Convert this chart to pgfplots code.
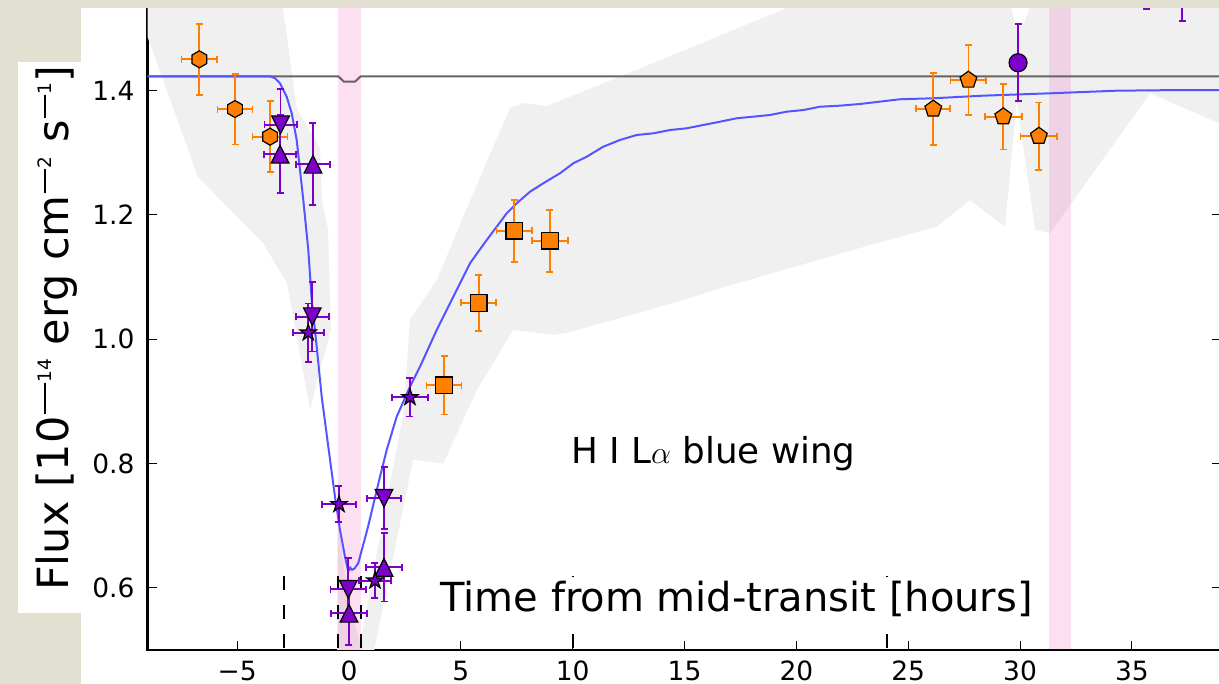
\documentclass[border=0pt]{standalone}
\usepackage{fontspec}
\setmainfont{DejaVu Sans}
\usepackage{graphicx}
\usepackage{pgfplots}
\pgfplotsset{compat=1.18}
\usetikzlibrary{plotmarks}

\definecolor{beige}{RGB}{226,224,208}
\definecolor{band}{RGB}{240,240,240}
\definecolor{morange}{RGB}{255,127,0}
\definecolor{mpurple}{RGB}{125,0,205}
\definecolor{mblue}{RGB}{85,85,255}
\definecolor{mgray}{RGB}{100,100,100}

\newcommand\sups[2]{\hspace{2pt}\raisebox{22pt}{\rule{#1}{2.2pt}}\hspace{1pt}\raisebox{16.5pt}{\fontsize{18.5}{20}\selectfont #2}}

\pgfdeclareplotmark{hexa}{%
  \pgfpathmoveto{\pgfpointpolar{90}{\pgfplotmarksize}}%
  \pgfpathlineto{\pgfpointpolar{150}{\pgfplotmarksize}}%
  \pgfpathlineto{\pgfpointpolar{210}{\pgfplotmarksize}}%
  \pgfpathlineto{\pgfpointpolar{270}{\pgfplotmarksize}}%
  \pgfpathlineto{\pgfpointpolar{330}{\pgfplotmarksize}}%
  \pgfpathlineto{\pgfpointpolar{30}{\pgfplotmarksize}}%
  \pgfpathclose\pgfusepathqfillstroke}
\pgfdeclareplotmark{fstar}{%
  \pgfpathmoveto{\pgfpointpolar{90}{\pgfplotmarksize}}%
  \pgfpathlineto{\pgfpointpolar{126}{0.382\pgfplotmarksize}}%
  \pgfpathlineto{\pgfpointpolar{162}{\pgfplotmarksize}}%
  \pgfpathlineto{\pgfpointpolar{198}{0.382\pgfplotmarksize}}%
  \pgfpathlineto{\pgfpointpolar{234}{\pgfplotmarksize}}%
  \pgfpathlineto{\pgfpointpolar{270}{0.382\pgfplotmarksize}}%
  \pgfpathlineto{\pgfpointpolar{306}{\pgfplotmarksize}}%
  \pgfpathlineto{\pgfpointpolar{342}{0.382\pgfplotmarksize}}%
  \pgfpathlineto{\pgfpointpolar{18}{\pgfplotmarksize}}%
  \pgfpathlineto{\pgfpointpolar{54}{0.382\pgfplotmarksize}}%
  \pgfpathclose\pgfusepathqfillstroke}
\pgfdeclareplotmark{tup}{%
  \pgfpathmoveto{\pgfpoint{0pt}{\pgfplotmarksize}}%
  \pgfpathlineto{\pgfpoint{-\pgfplotmarksize}{-\pgfplotmarksize}}%
  \pgfpathlineto{\pgfpoint{\pgfplotmarksize}{-\pgfplotmarksize}}%
  \pgfpathclose\pgfusepathqfillstroke}
\pgfdeclareplotmark{tdown}{%
  \pgfpathmoveto{\pgfpoint{0pt}{-\pgfplotmarksize}}%
  \pgfpathlineto{\pgfpoint{-\pgfplotmarksize}{\pgfplotmarksize}}%
  \pgfpathlineto{\pgfpoint{\pgfplotmarksize}{\pgfplotmarksize}}%
  \pgfpathclose\pgfusepathqfillstroke}

\pgfplotsset{
  orangeerr/.style={only marks, color=morange, line width=1.8pt,
    mark options={draw=black, fill=morange, line width=1.2pt, solid},
    error bars/x dir=both, error bars/x explicit, error bars/y dir=both, error bars/y explicit,
    error bars/error bar style={line width=1.8pt, morange},
    error bars/error mark options={rotate=90, morange, mark size=3.5pt, line width=1.8pt}},
  purpleerr/.style={only marks, color=mpurple, line width=1.8pt,
    mark options={draw=black, fill=mpurple, line width=1.2pt, solid},
    error bars/x dir=both, error bars/x explicit, error bars/y dir=both, error bars/y explicit,
    error bars/error bar style={line width=1.8pt, mpurple},
    error bars/error mark options={rotate=90, mpurple, mark size=3.5pt, line width=1.8pt}},
}

\begin{document}
\begin{tikzpicture}
\useasboundingbox (0pt,0pt) rectangle (1219pt,-684pt);
\begin{scope}
\clip (0pt,0pt) rectangle (1219pt,-684pt);
\fill[white] (0pt,0pt) rectangle (1219pt,-684pt);
\begin{axis}[
  at={(147.67pt,-649.87pt)}, anchor=south west,
  scale only axis, width=1073.76pt, height=683.43pt,
  xmin=-9, xmax=39, ymin=0.5, ymax=1.6,
  xtick={-5,0,5,10,15,20,25,30,35},
  xticklabels={−5,0,5,10,15,20,25,30,35},
  ytick={0.6,0.8,1.0,1.2,1.4},
  yticklabels={0.6,0.8,1.0,1.2,1.4},
  every tick label/.append style={inner sep=0pt, font=\fontsize{26.5}{30}\selectfont},
  xticklabel shift=11pt, yticklabel shift=13pt,
  major tick length=9pt,
  tick style={line width=1pt, black},
  axis line style={line width=2.5pt},
  clip=true,
]
% uncertainty band
\addplot[fill=band, draw=none] coordinates {
(-9.5,1.65) (-2.95,1.65) (-2.95,1.533) (-2.325,1.369) (-1.296,1.309) (-1.207,1.224)
(-0.939,1.176) (-0.805,1.015) (-1.296,0.950) (-1.743,0.886) (-2.772,1.090)
(-3.844,1.155) (-6.750,1.261) (-9.0,1.486) (-9.5,1.50)} -- cycle;
\addplot[fill=band, draw=none] coordinates {
(-0.536,0.45) (-0.536,0.717) (-0.1,0.60) (0.49,0.508) (2.0,0.80) (2.43,0.88)
(2.727,1.031) (3.920,1.095) (5.780,1.254) (7.197,1.372) (7.792,1.380) (8.838,1.375)
(12.696,1.431) (19.566,1.533) (21.726,1.565) (22.5,1.65) (28.9,1.65) (29.906,1.486)
(31.78,1.65) (39.83,1.65) (39.83,1.333) (35.81,1.396) (31.34,1.171) (30.67,1.176)
(29.85,1.385) (29.33,1.181) (27.76,1.224) (26.27,1.181) (22.84,1.147) (16.58,1.082)
(14.93,1.063) (9.732,1.010) (9.133,1.007) (7.345,1.015) (5.709,0.918) (4.215,0.800)
(2.861,0.806) (0.85,0.45)} -- cycle;
% transit bands
\addplot[fill=magenta, fill opacity=0.12, draw=none] coordinates {
(-0.49,0.4) (0.53,0.4) (0.53,1.7) (-0.49,1.7)} -- cycle;
\addplot[fill=magenta, fill opacity=0.12, draw=none] coordinates {
(31.29,0.4) (32.29,0.4) (32.29,1.7) (31.29,1.7)} -- cycle;
% dashed contact lines
\addplot[black, line width=2pt, dash pattern=on 14pt off 15pt] coordinates {(-2.89,0.6188) (-2.89,0.49)};
\addplot[black, line width=2pt, dash pattern=on 14pt off 15pt] coordinates {(-0.478,0.6188) (-0.478,0.49)};
\addplot[black, line width=2pt, dash pattern=on 14pt off 15pt] coordinates {(0.523,0.6188) (0.523,0.49)};
\addplot[black, line width=2pt, dash pattern=on 14pt off 15pt] coordinates {(10.03,0.6188) (10.03,0.49)};
\addplot[black, line width=2pt, dash pattern=on 14pt off 15pt] coordinates {(24.04,0.6188) (24.04,0.49)};
% optical transit line
\addplot[mgray, line width=2pt] coordinates {
(-9.5,1.4232) (-0.478,1.4232) (-0.224,1.4145) (0.268,1.4145) (0.523,1.4232) (39.83,1.4232)};
% model
\addplot[mblue, line width=2pt, line join=round] coordinates {
(-9.5,1.4232) (-3.531,1.4232) (-3.308,1.4200) (-3.085,1.4119) (-2.785,1.3903)
(-2.561,1.3636) (-2.338,1.3207) (-2.043,1.2241) (-1.819,1.1436) (-1.667,1.0632)
(-1.444,0.9880) (-1.220,0.9075) (-0.925,0.8270) (-0.626,0.7465) (-0.402,0.6929)
(-0.179,0.6500) (-0.031,0.6258) (0.05,0.633) (0.121,0.6286) (0.25,0.631)
(0.416,0.6398) (0.849,0.6978) (1.386,0.7787) (1.685,0.8217) (2.132,0.8753)
(2.727,0.9236) (3.174,0.9558) (3.920,1.0148) (4.291,1.0417) (4.663,1.0684)
(5.038,1.0953) (5.409,1.1222) (5.780,1.1409) (6.156,1.1597) (6.603,1.1811)
(7.050,1.2027) (7.497,1.2188) (8.091,1.2374) (8.686,1.2510) (9.432,1.2671)
(10.027,1.2831) (10.626,1.2938) (11.368,1.3099) (12.115,1.3207) (12.861,1.3287)
(13.603,1.3314) (14.350,1.3367) (15.096,1.3395) (15.838,1.3448) (16.585,1.3501)
(17.331,1.3556) (18.074,1.3582) (18.820,1.3609) (19.566,1.3662) (20.309,1.3689)
(21.055,1.3742) (21.949,1.3759) (22.843,1.3786) (24.631,1.3862) (26.120,1.3878)
(28.355,1.3920) (31.337,1.3958) (34.318,1.4000) (37.295,1.4011) (39.83,1.4011)};
% hexagons
\addplot[orangeerr, mark=hexa, mark size=8.5pt] coordinates {
(-6.69,1.4505) +- (0.8,0.057)
(-5.096,1.3705) +- (0.78,0.057)
(-3.53,1.326) +- (0.78,0.057)};
% triangles down
\addplot[purpleerr, mark=tdown, mark size=8.8pt] coordinates {
(-3.06,1.345) +- (0.72,0.058)
(-1.64,1.0363) +- (0.74,0.056)
(-0.03,0.5974) +- (0.8,0.05)
(1.565,0.7439) +- (0.76,0.05)};
% triangles up
\addplot[purpleerr, mark=tup, mark size=8.8pt] coordinates {
(-3.08,1.2978) +- (0.72,0.063)
(-1.61,1.2815) +- (0.77,0.066)
(0.0,0.5588) +- (0.8,0.051)
(1.565,0.6328) +- (0.8,0.055)};
% stars
\addplot[purpleerr, mark=fstar, mark size=8.6pt] coordinates {
(-1.82,1.0105) +- (0.69,0.047)
(-0.447,0.7343) +- (0.76,0.029)
(1.162,0.6113) +- (0.7,0.028)
(2.727,0.9065) +- (0.8,0.031)};
% squares
\addplot[orangeerr, mark=square*, mark size=8.4pt] coordinates {
(4.247,0.9258) +- (0.78,0.047)
(5.797,1.0583) +- (0.78,0.045)
(7.39,1.1747) +- (0.8,0.05)
(8.985,1.1586) +- (0.8,0.05)};
% pentagons
\addplot[orangeerr, mark=pentagon*, mark size=8.8pt] coordinates {
(26.12,1.3706) +- (0.76,0.058)
(27.69,1.4172) +- (0.8,0.056)
(29.25,1.3582) +- (0.82,0.053)
(30.84,1.327) +- (0.82,0.054)};
% circles
\addplot[only marks, color=mpurple, line width=1.8pt, mark=*, mark size=9pt,
  mark options={draw=black, fill=mpurple, line width=1.2pt},
  error bars/y dir=both, error bars/y explicit,
  error bars/error bar style={line width=1.8pt, mpurple},
  error bars/error mark options={rotate=90, mpurple, mark size=3.5pt, line width=1.8pt}]
coordinates {
(29.91,1.445) +- (0,0.062)
(35.66,1.595) +- (0,0.063)
(37.25,1.575) +- (0,0.063)};
\node[anchor=base, font=\fontsize{35.7}{40}\selectfont] at (axis cs:16.29,0.8002)
  {H I L\resizebox{20pt}{!}{$\alpha$} blue wing};
\node[anchor=base, fill=white, inner xsep=5pt, inner ysep=3.5pt, text height=31pt, text depth=18pt,
  font=\fontsize{40}{46}\selectfont] at (axis cs:17.33,0.5614) {Time from mid-transit [hours]};
\end{axis}
\fill[beige] (0pt,0pt) rectangle (1219pt,-8pt);
\fill[beige] (0pt,0pt) rectangle (81pt,-684pt);
\fill[white] (17.7pt,-61.7pt) rectangle (81pt,-613.3pt);
\node[rotate=90, anchor=base, inner sep=0pt, font=\fontsize{43}{48}\selectfont] at (68.3pt,-328.3pt)
  {Flux [10\sups{31pt}{14} erg cm\sups{24pt}{2} s\sups{23pt}{1}]};
\end{scope}
\end{tikzpicture}
\end{document}
